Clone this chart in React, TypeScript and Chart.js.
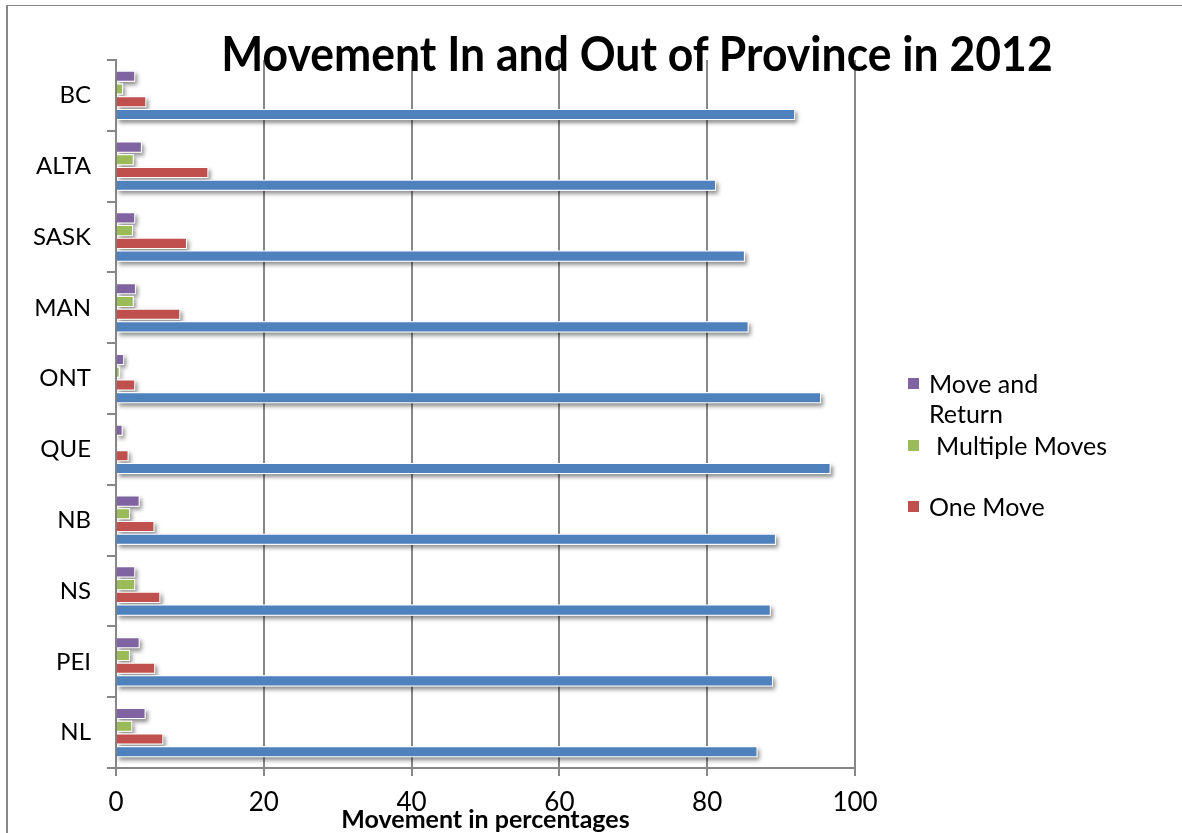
import React, { useEffect, useRef } from "react";
import { Chart, registerables } from "chart.js";

Chart.register(...registerables);

const provinces = ["BC", "ALTA", "SASK", "MAN", "ONT", "QUE", "NB", "NS", "PEI", "NL"];
const moveAndReturn = [2.6, 3.5, 2.6, 2.7, 1.1, 0.9, 3.2, 2.6, 3.2, 4.0];
const multipleMoves = [0.95, 2.4, 2.3, 2.4, 0.5, 0.2, 1.9, 2.6, 1.9, 2.2];
const oneMove = [4.1, 12.5, 9.6, 8.7, 2.6, 1.7, 5.2, 6.0, 5.3, 6.4];
const noMove = [91.9, 81.2, 85.1, 85.6, 95.4, 96.7, 89.3, 88.6, 88.9, 86.8];
const xTicks = [0, 20, 40, 60, 80, 100];

const FONT = "Lato, 'Open Sans', sans-serif";
const GREY = "#878787";

const shadowPlugin = {
  id: "barShadow",
  beforeDatasetsDraw(chart: any) {
    const ctx = chart.ctx;
    ctx.save();
    ctx.shadowColor = "rgba(0,0,0,0.45)";
    ctx.shadowBlur = 4;
    ctx.shadowOffsetX = 2;
    ctx.shadowOffsetY = 3;
    ctx.fillStyle = "#ffffff";
    chart.data.datasets.forEach((_d: any, i: number) => {
      const meta = chart.getDatasetMeta(i);
      meta.data.forEach((bar: any) => {
        const { x, y, base, height } = bar.getProps(["x", "y", "base", "height"], true);
        const left = Math.min(x, base);
        const w = Math.abs(x - base);
        if (w > 0.5) ctx.fillRect(left, y - height / 2, w, height);
      });
    });
    ctx.restore();
  },
};

export default function App() {
  const ref = useRef<HTMLCanvasElement | null>(null);

  useEffect(() => {
    document.body.style.overflow = "hidden";
    const canvas = ref.current;
    if (!canvas) return;
    const ds = (label: string, data: number[], color: string) => ({
      label,
      data,
      backgroundColor: color,
      borderColor: "#ffffff",
      borderWidth: 1,
      categoryPercentage: 0.72,
      barPercentage: 0.87,
    });
    const chart = new Chart(canvas, {
      type: "bar",
      data: {
        labels: provinces,
        datasets: [
          ds("Move and Return", moveAndReturn, "#8064A2"),
          ds("Multiple Moves", multipleMoves, "#9BBB59"),
          ds("One Move", oneMove, "#C0504D"),
          ds("No Move", noMove, "#4F81BD"),
        ],
      },
      plugins: [shadowPlugin],
      options: {
        indexAxis: "y",
        animation: false,
        responsive: false,
        maintainAspectRatio: false,
        layout: { padding: { left: 0, right: 327, top: 54, bottom: 0 } },
        plugins: {
          legend: { display: false },
          title: { display: false },
          tooltip: { enabled: false },
        },
        scales: {
          x: {
            type: "linear",
            min: 0,
            max: 100,
            afterBuildTicks: (scale: any) => {
              scale.ticks = xTicks.map((v) => ({ value: v }));
            },
            afterFit: (scale: any) => {
              scale.height = 65;
            },
            ticks: {
              color: "#000",
              font: { family: FONT, size: 26 },
              padding: 11,
            },
            grid: {
              color: GREY,
              lineWidth: 2,
              tickLength: 8,
              drawOnChartArea: true,
            },
            border: { color: GREY, width: 2 },
          },
          y: {
            type: "category",
            offset: true,
            afterFit: (scale: any) => {
              scale.width = 108;
            },
            ticks: {
              color: "#000",
              font: { family: FONT, size: 24 },
              padding: 16,
            },
            grid: {
              offset: true,
              drawOnChartArea: false,
              color: GREY,
              lineWidth: 2,
              tickLength: 9,
            },
            border: { color: GREY, width: 2 },
          },
        },
      },
    } as any);
    return () => chart.destroy();
  }, []);

  const legendItem = (color: string, lines: string[], top: number, indent = 0) => (
    <div style={{ position: "absolute", left: 900, top, fontFamily: FONT, fontSize: 25, lineHeight: "30px", color: "#000", whiteSpace: "nowrap" }}>
      <span style={{ position: "absolute", left: 0, top: 10, width: 11, height: 11, background: color }} />
      <div style={{ marginLeft: 21 + indent }}>
        {lines.map((l) => (
          <div key={l}>{l}</div>
        ))}
      </div>
    </div>
  );

  return (
    <>
      <div style={{ position: "fixed", left: 6, top: 5, width: 2, height: 828, background: GREY, zIndex: 5 }} />
      <div style={{ position: "fixed", left: 6, top: 5, width: 1176, height: 1, background: GREY, zIndex: 5 }} />
      <div
        style={{
          position: "fixed",
          left: 8,
          top: 6,
          width: 1174,
          height: 827,
          background: "#fff",
          overflow: "hidden",
        }}
      >
        <canvas ref={ref} width={1174} height={827} style={{ position: "absolute", left: 0, top: 0 }} />
        <div
          style={{
            position: "absolute",
            left: 0,
            width: 1258,
            top: 20,
            textAlign: "center",
            fontFamily: FONT,
            fontWeight: 700,
            fontSize: 44.5,
            lineHeight: "54px",
            color: "#000",
            transform: "scaleY(1.08)",
            whiteSpace: "nowrap",
          }}
        >
          Movement In and Out of Province in 2012
        </div>
        <div
          style={{
            position: "absolute",
            left: 108,
            width: 739,
            top: 797,
            textAlign: "center",
            fontFamily: FONT,
            fontWeight: 700,
            fontSize: 25,
            lineHeight: "30px",
            color: "#000",
            whiteSpace: "nowrap",
          }}
        >
          Movement in percentages
        </div>
        {legendItem("#8064A2", ["Move and", "Return"], 362)}
        {legendItem("#9BBB59", ["Multiple Moves"], 424, 7)}
        {legendItem("#C0504D", ["One Move"], 485)}
      </div>
    </>
  );
}
